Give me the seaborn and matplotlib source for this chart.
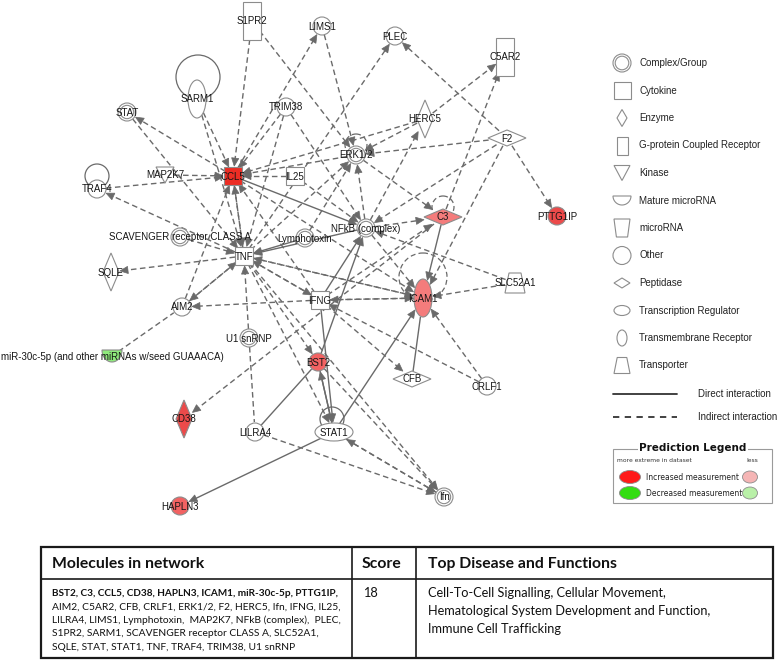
import numpy as np
import pandas as pd
import matplotlib
matplotlib.use('Agg')
import matplotlib.pyplot as plt
from matplotlib.patches import Circle, Ellipse, Rectangle, Polygon
import seaborn as sns

# network molecules (name, shape type, expression)
names = ['S1PR2', 'SARM1', 'STAT', 'TRIM38', 'LIMS1', 'PLEC', 'C5AR2', 'HERC5', 'F2',
         'ERK1/2', 'IL25', 'CCL5', 'MAP2K7', 'TRAF4', 'C3', 'PTTG1IP', 'NFkB (complex)',
         'Lymphotoxin', 'SCAVENGER receptor CLASS A', 'TNF', 'SQLE', 'AIM2', 'IFNG', 'ICAM1',
         'SLC52A1', 'U1 snRNP', 'miR-30c-5p (and other miRNAs w/seed GUAAACA)', 'BST2', 'CFB',
         'CRLF1', 'CD38', 'LILRA4', 'STAT1', 'HAPLN3', 'Ifn']
types = ['gpcr', 'tm', 'complex', 'other', 'other', 'other', 'gpcr', 'enzyme', 'peptidase',
         'complex', 'cytokine', 'cytokine', 'kinase', 'other', 'peptidase', 'other', 'complex',
         'complex', 'complex', 'cytokine', 'enzyme', 'other', 'cytokine', 'tm',
         'transporter', 'complex', 'mature', 'other', 'peptidase',
         'other', 'enzyme', 'other', 'tr', 'other', 'complex']
expr = ['none', 'none', 'none', 'none', 'none', 'none', 'none', 'none', 'none',
        'none', 'none', 'up4', 'none', 'none', 'up1', 'up3', 'none',
        'none', 'none', 'none', 'none', 'none', 'none', 'up1',
        'none', 'none', 'down', 'up2', 'none',
        'none', 'up3', 'none', 'none', 'up2', 'none']

# interactions: (source, target, kind) -- d = direct, i = indirect, arrow at target
edges = [
    ('S1PR2', 'CCL5', 'i'), ('S1PR2', 'ERK1/2', 'i'), ('SARM1', 'CCL5', 'i'), ('SARM1', 'TNF', 'i'),
    ('TRIM38', 'CCL5', 'i'), ('TRIM38', 'TNF', 'i'), ('TRIM38', 'NFkB (complex)', 'i'),
    ('LIMS1', 'ERK1/2', 'i'), ('CCL5', 'LIMS1', 'i'), ('TNF', 'PLEC', 'i'), ('CCL5', 'STAT', 'i'),
    ('STAT', 'TNF', 'i'), ('MAP2K7', 'CCL5', 'i'), ('TRAF4', 'CCL5', 'i'), ('TNF', 'TRAF4', 'i'),
    ('IL25', 'CCL5', 'i'), ('IL25', 'NFkB (complex)', 'i'), ('HERC5', 'ERK1/2', 'i'),
    ('HERC5', 'C5AR2', 'i'), ('NFkB (complex)', 'HERC5', 'i'), ('C3', 'C5AR2', 'i'),
    ('F2', 'PLEC', 'i'), ('F2', 'ERK1/2', 'i'), ('F2', 'PTTG1IP', 'i'), ('F2', 'NFkB (complex)', 'i'),
    ('F2', 'ICAM1', 'i'), ('ERK1/2', 'CCL5', 'i'), ('TNF', 'ERK1/2', 'i'), ('Lymphotoxin', 'ERK1/2', 'i'),
    ('NFkB (complex)', 'ERK1/2', 'i'), ('ERK1/2', 'C3', 'i'), ('NFkB (complex)', 'C3', 'i'),
    ('IFNG', 'C3', 'i'), ('SCAVENGER receptor CLASS A', 'TNF', 'i'), ('TNF', 'SQLE', 'i'),
    ('AIM2', 'TNF', 'i'), ('TNF', 'AIM2', 'i'), ('IFNG', 'AIM2', 'i'), ('AIM2', 'CCL5', 'i'),
    ('U1 snRNP', 'TNF', 'i'), ('U1 snRNP', 'LILRA4', 'n'), ('IFNG', 'TNF', 'i'), ('ICAM1', 'TNF', 'i'),
    ('ICAM1', 'IFNG', 'i'), ('IFNG', 'ICAM1', 'i'), ('NFkB (complex)', 'ICAM1', 'i'), ('TNF', 'ICAM1', 'i'),
    ('SLC52A1', 'ICAM1', 'i'), ('SLC52A1', 'NFkB (complex)', 'i'), ('CRLF1', 'ICAM1', 'i'),
    ('CRLF1', 'IFNG', 'i'), ('IFNG', 'CFB', 'i'), ('TNF', 'BST2', 'i'), ('TNF', 'STAT1', 'i'),
    ('BST2', 'Ifn', 'i'), ('LILRA4', 'Ifn', 'i'), ('STAT1', 'Ifn', 'i'), ('Ifn', 'STAT1', 'i'),
    ('TNF', 'Ifn', 'i'), ('C3', 'CD38', 'i'), ('TNF', 'CCL5', 'i'), ('CCL5', 'TNF', 'i'),
    ('TNF', 'IFNG', 'i'), ('IFNG', 'CCL5', 'i'), ('CCL5', 'ICAM1', 'i'), ('HERC5', 'CCL5', 'i'),
    ('miR-30c-5p (and other miRNAs w/seed GUAAACA)', 'AIM2', 'n'),
    ('CCL5', 'NFkB (complex)', 'd'), ('Lymphotoxin', 'TNF', 'd'), ('NFkB (complex)', 'TNF', 'd'),
    ('C3', 'ICAM1', 'd'), ('IFNG', 'NFkB (complex)', 'd'), ('BST2', 'NFkB (complex)', 'd'),
    ('IFNG', 'STAT1', 'd'), ('STAT1', 'BST2', 'd'), ('BST2', 'STAT1', 'd'), ('STAT1', 'ICAM1', 'd'),
    ('STAT1', 'HAPLN3', 'd'), ('LILRA4', 'BST2', 'e'), ('CFB', 'ICAM1', 'e'),
]
self_loops = {'SARM1': 'd', 'TRAF4': 'd', 'ERK1/2': 'i', 'C3': 'i', 'ICAM1': 'i', 'STAT1': 'd'}

legend_types = ['complex', 'cytokine', 'enzyme', 'gpcr', 'kinase', 'mature', 'mirna', 'other',
                'peptidase', 'tr', 'tm', 'transporter']
legend_labels = ['Complex/Group', 'Cytokine', 'Enzyme', 'G-protein Coupled Receptor', 'Kinase',
                 'Mature microRNA', 'microRNA', 'Other', 'Peptidase', 'Transcription Regulator',
                 'Transmembrane Receptor', 'Transporter']

table_headers = ['Molecules in network', 'Score', 'Top Disease and Functions']
molecules_bold = 'BST2, C3, CCL5, CD38, HAPLN3, ICAM1, miR-30c-5p, PTTG1IP,'
molecules_rest = ['AIM2, C5AR2, CFB, CRLF1, ERK1/2, F2, HERC5, Ifn, IFNG, IL25,',
                  'LILRA4, LIMS1, Lymphotoxin,  MAP2K7, NFkB (complex),  PLEC,',
                  'S1PR2, SARM1, SCAVENGER receptor CLASS A, SLC52A1,',
                  'SQLE, STAT, STAT1, TNF, TRAF4, TRIM38, U1 snRNP']
score = '18'
functions = ['Cell-To-Cell Signalling, Cellular Movement,',
             'Hematological System Development and Function,',
             'Immune Cell Trafficking']

# ---- layout (pixel positions of the drawing) ----
layout = {
    'S1PR2': (252, 21), 'SARM1': (197, 99), 'STAT': (127, 112), 'TRIM38': (286, 107),
    'LIMS1': (322, 26), 'PLEC': (395, 36), 'C5AR2': (505, 57), 'HERC5': (425, 119),
    'F2': (507, 138), 'ERK1/2': (356, 155), 'IL25': (295, 176), 'CCL5': (233, 176),
    'MAP2K7': (165, 175), 'TRAF4': (97, 189), 'C3': (443, 217), 'PTTG1IP': (557, 216),
    'NFkB (complex)': (366, 228), 'Lymphotoxin': (305, 238), 'SCAVENGER receptor CLASS A': (180, 237),
    'TNF': (244, 256), 'SQLE': (111, 272), 'AIM2': (182, 307), 'IFNG': (320, 300),
    'ICAM1': (423, 298), 'SLC52A1': (515, 283), 'U1 snRNP': (249, 338),
    'miR-30c-5p (and other miRNAs w/seed GUAAACA)': (112, 356), 'BST2': (318, 362),
    'CFB': (412, 379), 'CRLF1': (487, 386), 'CD38': (184, 419), 'LILRA4': (255, 432),
    'STAT1': (334, 432), 'HAPLN3': (180, 506), 'Ifn': (444, 497),
}
half_size = {'other': (9, 9), 'complex': (9, 9), 'cytokine': (9, 9), 'gpcr': (9, 19),
             'enzyme': (8, 19), 'peptidase': (19, 8), 'kinase': (9, 8), 'tm': (9, 19),
             'tr': (19, 9), 'transporter': (10, 10), 'mature': (10, 6), 'mirna': (9, 9)}
legend_size = {'other': (9, 9), 'complex': (9, 9), 'cytokine': (8.5, 8.5), 'gpcr': (5.5, 9),
               'enzyme': (5, 8.5), 'peptidase': (8, 5), 'kinase': (8, 7.5), 'tm': (5, 8),
               'tr': (8, 5), 'transporter': (8, 8), 'mature': (9, 4.5), 'mirna': (8, 9)}
loop_geom = {'SARM1': (198, 77, 22), 'TRAF4': (97, 176, 12), 'ERK1/2': (356, 145, 11),
             'C3': (443, 207, 11), 'ICAM1': (423, 277, 24), 'STAT1': (332, 419, 12)}
fill = {'none': 'white', 'up1': '#f47c7c', 'up2': '#f26262', 'up3': '#ec4a4a',
        'up4': '#ec2d24', 'down': '#8fea7c'}
EDGE = '#6a6a6a'
NODE_EDGE = '#8c8c8c'

sns.set_theme(style='white')
plt.rcParams['font.family'] = ['Liberation Sans', 'DejaVu Sans']

fig = plt.figure(figsize=(7.8, 6.61), dpi=100)
ax = fig.add_axes([0, 0, 1, 1])
ax.set_xlim(0, 780)
ax.set_ylim(661, 0)
ax.axis('off')


def draw_shape(kind, x, y, face, size, z=3):
    a, b = size
    kw = dict(facecolor=face, edgecolor=NODE_EDGE, lw=0.8, zorder=z)
    if kind in ('cytokine', 'gpcr'):
        ax.add_patch(Rectangle((x - a, y - b), 2 * a, 2 * b, **kw))
    elif kind in ('enzyme', 'peptidase'):
        ax.add_patch(Polygon([(x, y - b), (x + a, y), (x, y + b), (x - a, y)], **kw))
    elif kind == 'kinase':
        ax.add_patch(Polygon([(x - a, y - b), (x + a, y - b), (x, y + b)], **kw))
    elif kind in ('tm', 'tr'):
        ax.add_patch(Ellipse((x, y), 2 * a, 2 * b, **kw))
    elif kind == 'transporter':
        ax.add_patch(Polygon([(x - 0.6 * a, y - b), (x + 0.6 * a, y - b), (x + a, y + b),
                              (x - a, y + b)], **kw))
    elif kind == 'mirna':
        ax.add_patch(Polygon([(x - a, y - b), (x + a, y - b), (x + 0.7 * a, y + b),
                              (x - 0.7 * a, y + b)], **kw))
    elif kind == 'mature':
        t = np.linspace(0, np.pi, 30)
        pts = [(x + a * np.cos(s), y + 2 * b * np.sin(s) - b) for s in t]
        ax.add_patch(Polygon(pts, closed=True, **kw))
    elif kind in ('other', 'complex'):
        ax.add_patch(Circle((x, y), a, **kw))
        if kind == 'complex':
            ax.add_patch(Circle((x, y), a - 2.2, facecolor='none', edgecolor=NODE_EDGE,
                                lw=0.8, zorder=z + 0.1))


def boundary(name, ux, uy):
    a, b = half_size[types[names.index(name)]]
    return 1.0 / np.sqrt((ux / a) ** 2 + (uy / b) ** 2)


def arrow_head(tx, ty, ux, uy, z=2.5):
    L, W = 8, 3.6
    bx, by = tx - ux * L, ty - uy * L
    px, py = -uy, ux
    ax.add_patch(Polygon([(tx, ty), (bx + px * W, by + py * W), (bx - px * W, by - py * W)],
                         facecolor=EDGE, edgecolor=EDGE, lw=0.5, zorder=z))


# self loops
for nm, kind in self_loops.items():
    cx, cy, r = loop_geom[nm]
    ax.add_patch(Circle((cx, cy), r, facecolor='none', edgecolor=EDGE, lw=0.9,
                        ls='-' if kind == 'd' else (0, (4, 2.5)), zorder=1.5))

# edges
for src, dst, kind in edges:
    x0, y0 = layout[src]
    x1, y1 = layout[dst]
    d = np.hypot(x1 - x0, y1 - y0)
    ux, uy = (x1 - x0) / d, (y1 - y0) / d
    s0 = boundary(src, ux, uy)
    s1 = boundary(dst, ux, uy) + 1
    sx, sy = x0 + ux * s0, y0 + uy * s0
    tx, ty = x1 - ux * s1, y1 - uy * s1
    has_arrow = kind in ('i', 'd')
    ex, ey = (tx - ux * 6, ty - uy * 6) if has_arrow else (tx, ty)
    ls = '-' if kind in ('d', 'e') else (0, (4, 2.5))
    ax.plot([sx, ex], [sy, ey], color=EDGE, lw=1.0, ls=ls, zorder=1)
    if has_arrow:
        arrow_head(tx, ty, ux, uy)

# nodes: circles through seaborn, other shapes as patches
nodes = pd.DataFrame({'name': names, 'type': types, 'expr': expr})
nodes['x'] = [layout[n][0] for n in names]
nodes['y'] = [layout[n][1] for n in names]
circ = nodes[nodes['type'].isin(['other', 'complex'])]
sns.scatterplot(data=circ, x='x', y='y', hue='expr', palette=fill, s=168, marker='o',
                edgecolor=NODE_EDGE, linewidth=0.8, legend=False, zorder=3, ax=ax)
cplx = nodes[nodes['type'] == 'complex']
sns.scatterplot(data=cplx, x='x', y='y', s=92, marker='o', color='none',
                edgecolor=NODE_EDGE, linewidth=0.8, legend=False, zorder=3.1, ax=ax)
for _, row in nodes[~nodes['type'].isin(['other', 'complex'])].iterrows():
    draw_shape(row['type'], row['x'], row['y'], fill[row['expr']], half_size[row['type']])

for _, row in nodes.iterrows():
    ax.text(row['x'], row['y'] + 0.5, row['name'], ha='center', va='center', fontsize=7,
            color='#161616', zorder=5)

# shape legend
for i, (kind, lab) in enumerate(zip(legend_types, legend_labels)):
    ly = 63 + i * 27.5
    draw_shape(kind, 622, ly, 'white', legend_size[kind])
    ax.text(639, ly, lab, ha='left', va='center', fontsize=7, color='#222222')

ax.plot([613, 677], [394, 394], color='#333333', lw=1.3)
ax.plot([613, 677], [417, 417], color='#333333', lw=1.3, ls=(0, (3.5, 3)))
ax.text(698, 394, 'Direct interaction', ha='left', va='center', fontsize=7, color='#222222')
ax.text(698, 417, 'Indirect interaction', ha='left', va='center', fontsize=7, color='#222222')

# prediction legend
ax.add_patch(Rectangle((613, 449), 159, 54, facecolor='white', edgecolor='#9a9a9a', lw=0.8))
ax.text(693, 448, 'Prediction Legend', ha='center', va='center', fontsize=7.5, weight='bold',
        family='DejaVu Sans', color='#111111',
        bbox=dict(facecolor='white', edgecolor='none', pad=1))
ax.text(617, 461, 'more extreme in dataset', ha='left', va='center', fontsize=4.3,
        family='DejaVu Sans', color='#333333')
ax.text(758, 461, 'less', ha='right', va='center', fontsize=4.3, family='DejaVu Sans',
        color='#333333')
for ly, strong, light, lab in [(477, '#ff1a1a', '#f5b5b5', 'Increased measurement'),
                               (493, '#33dd11', '#b9f0a8', 'Decreased measurement')]:
    ax.add_patch(Ellipse((630, ly), 21, 13, facecolor=strong, edgecolor='#8c8c8c', lw=0.6))
    ax.add_patch(Ellipse((750, ly), 15, 12, facecolor=light, edgecolor='#8c8c8c', lw=0.6))
    ax.text(646, ly, lab, ha='left', va='center', fontsize=5.5, family='DejaVu Sans',
            color='#222222')

# table
TL, TR, TT, TB, HD, C1, C2 = 41, 773, 547, 658, 579, 352, 416
ax.add_patch(Rectangle((TL, TT), TR - TL, TB - TT, facecolor='white', edgecolor='#1a1a1a', lw=1.6))
ax.plot([TL, TR], [HD, HD], color='#1a1a1a', lw=1.2)
ax.plot([C1, C1], [TT, TB], color='#1a1a1a', lw=1.2)
ax.plot([C2, C2], [TT, TB], color='#1a1a1a', lw=1.2)
for hx, h in zip([52, 362, 428], table_headers):
    ax.text(hx, 564, h, ha='left', va='center', fontsize=11.3, weight='bold', family='Lato',
            color='#111111')
ax.text(52, 593, molecules_bold, ha='left', va='center', fontsize=7.2, weight='bold',
        family='Lato', color='#111111')
for i, line in enumerate(molecules_rest):
    ax.text(52, 607 + i * 13.5, line, ha='left', va='center', fontsize=7.4, family='Lato',
            color='#111111')
ax.text(363, 593, score, ha='left', va='center', fontsize=9.2, family='Lato', color='#111111')
for i, line in enumerate(functions):
    ax.text(428, 593 + i * 18, line, ha='left', va='center', fontsize=9.2, family='Lato',
            color='#111111')

fig.savefig('out.png', dpi=100, facecolor='white')
